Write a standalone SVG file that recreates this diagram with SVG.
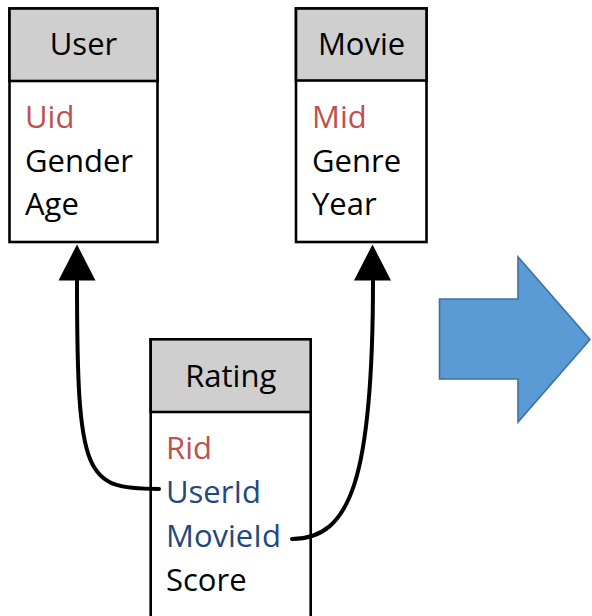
<svg xmlns="http://www.w3.org/2000/svg" width="592" height="616" viewBox="0 0 592 616">
  <defs>
    <style>
      .box { fill: #ffffff; stroke: #000000; stroke-width: 2.6; }
      .head { fill: #cfcfcf; stroke: #000000; stroke-width: 2.6; }
      text { font-family: "Open Sans", "Liberation Sans", sans-serif; font-size: 31px; fill: #000000; }
      .title { text-anchor: middle; }
      .key { fill: #c0504d; }
      .fk { fill: #1f497d; }
      .link { fill: none; stroke: #000000; stroke-width: 4; stroke-linecap: round; }
      .tip { fill: #000000; }
    </style>
  </defs>
  <rect width="592" height="616" fill="#ffffff"/>

  <!-- User table -->
  <g id="user">
    <rect class="box" x="9.5" y="8.5" width="148" height="233.5"/>
    <rect class="head" x="9.5" y="8.5" width="148" height="72.5"/>
    <text class="title" x="83.5" y="55">User</text>
    <text class="key" x="25" y="128">Uid</text>
    <text x="25" y="172">Gender</text>
    <text x="25" y="215">Age</text>
  </g>

  <!-- Movie table -->
  <g id="movie">
    <rect class="box" x="296" y="8.5" width="130.5" height="233.5"/>
    <rect class="head" x="296" y="8.5" width="130.5" height="72"/>
    <text class="title" x="361.5" y="55">Movie</text>
    <text class="key" x="312" y="128">Mid</text>
    <text x="312" y="172">Genre</text>
    <text x="312" y="215">Year</text>
  </g>

  <!-- Rating table (runs past the bottom edge) -->
  <g id="rating">
    <rect class="box" x="150.7" y="339.3" width="160" height="290"/>
    <rect class="head" x="150.7" y="339.3" width="160" height="72.7"/>
    <text class="title" x="230.7" y="386.5">Rating</text>
    <text class="key" x="166" y="459">Rid</text>
    <text class="fk" x="166" y="503">UserId</text>
    <text class="fk" x="166" y="547">MovieId</text>
    <text x="166" y="591">Score</text>
  </g>

  <!-- foreign key references -->
  <g id="connectors">
    <path class="link" d="M77,280 C77,480 85,489 159,489"/>
    <polygon class="tip" points="77,244.5 95.5,280.5 58.5,280.5"/>
    <path class="link" d="M292,539 C350,539 373,480 373,280"/>
    <polygon class="tip" points="372.5,244.5 391,280.5 354,280.5"/>
  </g>

  <!-- block arrow -->
  <g id="transform-arrow">
    <polygon points="439.5,299 518,299 518,257 590,339.5 518,422 518,379 439.5,379" fill="#5b9bd5" stroke="#41719c" stroke-width="1.6" stroke-linejoin="miter"/>
  </g>
</svg>
